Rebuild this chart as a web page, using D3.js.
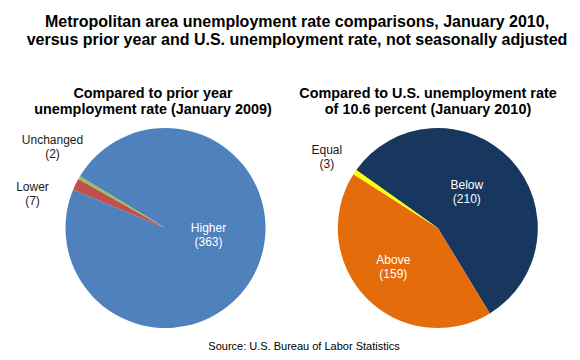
<!DOCTYPE html>
<html>
<head>
<meta charset="utf-8">
<script src="https://cdn.jsdelivr.net/npm/d3@7"></script>
<style>
  html, body { margin: 0; padding: 0; background: #ffffff; }
  svg { display: block; font-family: "Liberation Sans", Arial, sans-serif; }
</style>
</head>
<body>
<svg id="chart" width="580" height="360"></svg>
<script>
// ---- data ----
const titleLines = [
  "Metropolitan area unemployment rate comparisons, January 2010,",
  "versus prior year and U.S. unemployment rate, not seasonally adjusted"
];
const leftSubtitle = ["Compared to prior year", "unemployment rate (January 2009)"];
const rightSubtitle = ["Compared to U.S. unemployment rate", "of 10.6 percent (January 2010)"];
const sourceText = "Source: U.S. Bureau of Labor Statistics";

const priorYearCategories = ["Higher", "Lower", "Unchanged"];
const priorYearValues = [363, 7, 2];

const usRateCategories = ["Below", "Above", "Equal"];
const usRateValues = [210, 159, 3];

// ---- styles / layout ----
const colorsLeft = ["#4F81BD", "#C0504D", "#9BBB59"];
const colorsRight = ["#17375E", "#E46C0A", "#FFFF00"];
const labelColorsLeft = ["#ffffff", "#1a1a1a", "#1a1a1a"];
const labelColorsRight = ["#ffffff", "#ffffff", "#1a1a1a"];

const svg = d3.select("#chart");
const deg = Math.PI / 180;

// Title
svg.append("g").selectAll("text").data(titleLines).join("text")
  .attr("x", 297).attr("y", (d, i) => 27 + i * 17.6)
  .attr("text-anchor", "middle")
  .attr("font-weight", "bold").attr("font-size", "16px")
  .attr("fill", "#000").text(d => d);

function subtitle(lines, cx) {
  svg.append("g").selectAll("text").data(lines).join("text")
    .attr("x", cx).attr("y", (d, i) => 97.5 + i * 16)
    .attr("text-anchor", "middle")
    .attr("font-weight", "bold").attr("font-size", "14.4px")
    .attr("fill", "#000").text(d => d);
}
subtitle(leftSubtitle, 153);
subtitle(rightSubtitle, 428);

// label offsets (first-line baseline) relative to pie centre (layout, not data)
const leftLabelPos = [[43, 4], [-133, -37], [-113, -84]];
const rightLabelPos = [[29, -39], [-44.5, 36], [-111, -74]];

function drawPie(cats, vals, colors, labelColors, cx, cy, r, startDeg, labelPos) {
  const pie = d3.pie().sort(null).value(d => d.v)
    .startAngle(startDeg * deg).endAngle(startDeg * deg + 2 * Math.PI);
  const arc = d3.arc().innerRadius(0).outerRadius(r);
  const data = cats.map((c, i) => ({ c, v: vals[i], i }));
  const g = svg.append("g").attr("transform", `translate(${cx},${cy})`);
  g.selectAll("path").data(pie(data)).join("path")
    .attr("d", arc)
    .attr("fill", d => colors[d.data.i]);
  const lg = g.selectAll("g.lbl").data(data).join("g").attr("class", "lbl");
  lg.append("text")
    .attr("x", d => labelPos[d.i][0])
    .attr("y", d => labelPos[d.i][1])
    .attr("text-anchor", "middle").attr("font-size", "12px")
    .attr("fill", d => labelColors[d.i])
    .text(d => d.c);
  lg.append("text")
    .attr("x", d => labelPos[d.i][0])
    .attr("y", d => labelPos[d.i][1] + 14)
    .attr("text-anchor", "middle").attr("font-size", "12px")
    .attr("fill", d => labelColors[d.i])
    .text(d => `(${d.v})`);
}

drawPie(priorYearCategories, priorYearValues, colorsLeft, labelColorsLeft, 165.5, 228, 100, 301.2, leftLabelPos);
drawPie(usRateCategories, usRateValues, colorsRight, labelColorsRight, 437.8, 228, 100, 305.4, rightLabelPos);

// Source
svg.append("text")
  .attr("x", 304).attr("y", 350)
  .attr("text-anchor", "middle").attr("font-size", "11px")
  .attr("fill", "#000").text(sourceText);
</script>
</body>
</html>
